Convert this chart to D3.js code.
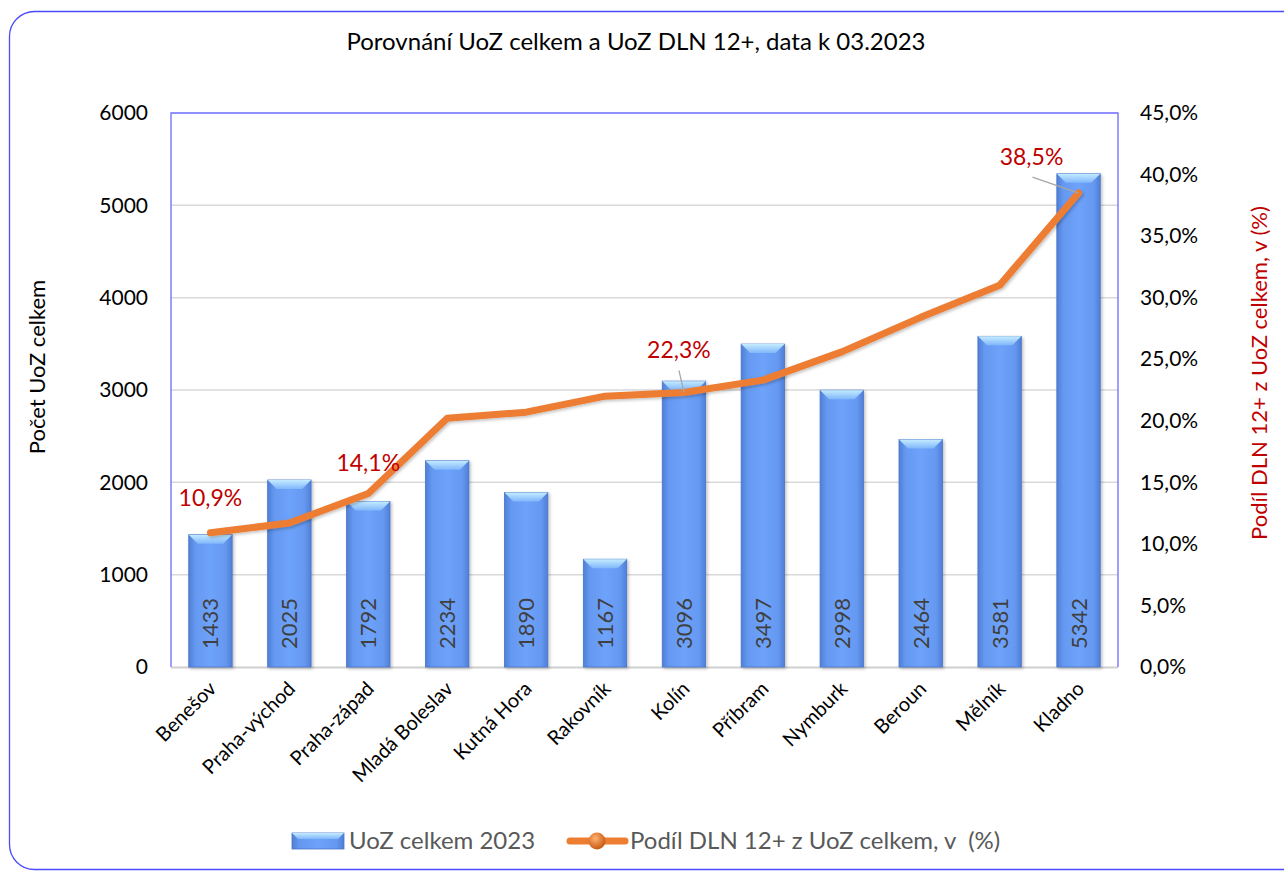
<!DOCTYPE html>
<html>
<head>
<meta charset="utf-8">
<script src="https://cdn.jsdelivr.net/npm/d3@7"></script>
<style>
  body { margin: 0; background: #fff; }
  text { font-family: Lato, "Open Sans", sans-serif; }
</style>
</head>
<body>
<div id="chart-container"></div>
<script>
// data
const districts = ["Benešov", "Praha-východ", "Praha-západ", "Mladá Boleslav", "Kutná Hora",
  "Rakovník", "Kolín", "Příbram", "Nymburk", "Beroun", "Mělník", "Kladno"];
const uozTotal = [1433, 2025, 1792, 2234, 1890, 1167, 3096, 3497, 2998, 2464, 3581, 5342];
const dlnShare = [10.9, 11.7, 14.1, 20.2, 20.7, 22.0, 22.3, 23.3, 25.6, 28.4, 31.0, 38.5];
const leftTicks = [0, 1000, 2000, 3000, 4000, 5000, 6000];
const rightTicks = [0, 5, 10, 15, 20, 25, 30, 35, 40, 45];
const labelled = [0, 2, 6, 11];

const w = 1284;
const h = 871;
const plot = { left: 171, right: 1118, top: 113, bottom: 667 };
const pct = (v) => d3.format(".1f")(v).replace(".", ",") + "%";

const svg = d3.select("#chart-container").append("svg")
  .attr("width", w).attr("height", h);

const defs = svg.append("defs");

const barGrad = defs.append("linearGradient").attr("id", "barGrad")
  .attr("x1", 0).attr("x2", 1).attr("y1", 0).attr("y2", 0);
barGrad.append("stop").attr("offset", "0%").attr("stop-color", "#4f7fd6");
barGrad.append("stop").attr("offset", "15%").attr("stop-color", "#6598f0");
barGrad.append("stop").attr("offset", "50%").attr("stop-color", "#6ea3fb");
barGrad.append("stop").attr("offset", "85%").attr("stop-color", "#6598f0");
barGrad.append("stop").attr("offset", "100%").attr("stop-color", "#4f7fd6");

const capGrad = defs.append("linearGradient").attr("id", "capGrad")
  .attr("x1", 0).attr("x2", 0).attr("y1", 0).attr("y2", 1);
capGrad.append("stop").attr("offset", "0%").attr("stop-color", "#c4ecff");
capGrad.append("stop").attr("offset", "100%").attr("stop-color", "#80b6fb");

const ballGrad = defs.append("radialGradient").attr("id", "ballGrad")
  .attr("cx", "40%").attr("cy", "35%").attr("r", "65%");
ballGrad.append("stop").attr("offset", "0%").attr("stop-color", "#ffb070");
ballGrad.append("stop").attr("offset", "100%").attr("stop-color", "#c85a10");

const shadow = defs.append("filter").attr("id", "shadow")
  .attr("x", "-20%").attr("y", "-20%").attr("width", "140%").attr("height", "140%");
shadow.append("feDropShadow").attr("dx", 1.5).attr("dy", 1.5).attr("stdDeviation", 1.5)
  .attr("flood-color", "#000").attr("flood-opacity", 0.25);

// outer frame
svg.append("rect")
  .attr("x", 9.5).attr("y", 11.5).attr("width", 1320).attr("height", 858)
  .attr("rx", 25).attr("fill", "none").attr("stroke", "#4a4aff").attr("stroke-width", 1.3);

// scales
const xScale = d3.scaleBand().domain(districts).range([plot.left, plot.right]).paddingInner(0.45).paddingOuter(0.225);
const yScale = d3.scaleLinear().domain([0, 6000]).range([plot.bottom, plot.top]);
const y2Scale = d3.scaleLinear().domain([0, 45]).range([plot.bottom, plot.top]);
const center = (d) => xScale(d) + xScale.bandwidth() / 2;

// gridlines
svg.append("g").selectAll("line").data(leftTicks.slice(1, -1)).join("line")
  .attr("x1", plot.left).attr("x2", plot.right)
  .attr("y1", (d) => yScale(d)).attr("y2", (d) => yScale(d))
  .attr("stroke", "#d9d9d9").attr("stroke-width", 1.5);

// bottom axis line
svg.append("line")
  .attr("x1", plot.left).attr("x2", plot.right)
  .attr("y1", plot.bottom + 0.5).attr("y2", plot.bottom + 0.5)
  .attr("stroke", "#d0d0d0").attr("stroke-width", 2);

// plot border (left, top, right)
svg.append("path")
  .attr("d", `M${plot.left},${plot.bottom}V${plot.top}H${plot.right}V${plot.bottom}`)
  .attr("fill", "none").attr("stroke", "#6b6bff").attr("stroke-width", 1.3);

// left axis
const yAxis = d3.axisLeft(yScale).tickValues(leftTicks).tickSize(0).tickPadding(0)
  .tickFormat(d3.format("d"));
svg.append("g").attr("transform", `translate(148,0)`).call(yAxis)
  .call((g) => g.select(".domain").remove())
  .selectAll("text").attr("font-size", 21).attr("fill", "#000").attr("font-family", "Lato");

// right axis
const y2Axis = d3.axisRight(y2Scale).tickValues(rightTicks).tickSize(0).tickPadding(0)
  .tickFormat(pct);
svg.append("g").attr("transform", `translate(1140,0)`).call(y2Axis)
  .call((g) => g.select(".domain").remove())
  .selectAll("text").attr("font-size", 21).attr("fill", "#000").attr("font-family", "Lato");

// bars
const bars = svg.append("g").selectAll("g").data(districts).join("g")
  .attr("filter", "url(#shadow)");
bars.append("rect")
  .attr("x", (d) => xScale(d))
  .attr("y", (d, i) => yScale(uozTotal[i]))
  .attr("width", xScale.bandwidth())
  .attr("height", (d, i) => plot.bottom - yScale(uozTotal[i]))
  .attr("fill", "url(#barGrad)")
  .attr("stroke", "#4a73c8").attr("stroke-width", 0.8);
bars.append("path")
  .attr("d", (d, i) => {
    const x0 = xScale(d), x1 = x0 + xScale.bandwidth(), y0 = yScale(uozTotal[i]);
    return `M${x0},${y0}H${x1}L${x1 - 9},${y0 + 9}H${x0 + 9}Z`;
  })
  .attr("fill", "url(#capGrad)");

// bar value labels
svg.append("g").selectAll("text").data(districts).join("text")
  .attr("transform", (d) => `translate(${center(d) + 8},649) rotate(-90)`)
  .attr("font-size", 22).attr("fill", "#404040")
  .text((d, i) => uozTotal[i]);

// share line
const line = d3.line()
  .x((d, i) => center(districts[i]))
  .y((d) => y2Scale(d));
svg.append("path").datum(dlnShare)
  .attr("d", line)
  .attr("fill", "none").attr("stroke", "#ed7d31").attr("stroke-width", 7)
  .attr("stroke-linejoin", "round").attr("stroke-linecap", "round")
  .attr("filter", "url(#shadow)");

// point labels, two of them with leader lines
const labelOffset = { 0: [0, -27], 2: [0, -22], 6: [-5, -34], 11: [-47, -28] };
const leader = { 6: [-5, -22], 11: [-46, -16] };
labelled.forEach((i) => {
  const px = center(districts[i]);
  const py = y2Scale(dlnShare[i]);
  const [dx, dy] = labelOffset[i];
  if (leader[i]) {
    svg.append("line")
      .attr("x1", px + leader[i][0]).attr("y1", py + leader[i][1])
      .attr("x2", px).attr("y2", py)
      .attr("stroke", "#a6a6a6").attr("stroke-width", 1.3);
  }
  svg.append("text")
    .attr("x", px + dx).attr("y", py + dy)
    .attr("text-anchor", "middle")
    .attr("font-size", 23).attr("fill", "#c00000")
    .text(pct(dlnShare[i]));
});

// x labels
svg.append("g").selectAll("text").data(districts).join("text")
  .attr("transform", (d) => `translate(${center(d) + 7},690) rotate(-45)`)
  .attr("text-anchor", "end")
  .attr("font-size", 20).attr("fill", "#000")
  .text((d) => d);

// title
svg.append("text").attr("x", 636).attr("y", 50).attr("text-anchor", "middle")
  .attr("font-size", 24).attr("fill", "#000")
  .text("Porovnání UoZ celkem a UoZ DLN 12+, data k 03.2023");

// axis titles
svg.append("text").attr("transform", "translate(45,367) rotate(-90)")
  .attr("text-anchor", "middle").attr("font-size", 22).attr("fill", "#000")
  .text("Počet UoZ celkem");
svg.append("text").attr("transform", "translate(1267,373) rotate(-90)")
  .attr("text-anchor", "middle").attr("font-size", 22).attr("fill", "#c00000")
  .text("Podíl DLN 12+ z UoZ celkem, v (%)");

// legend
const legend = svg.append("g");
legend.append("rect").attr("x", 292).attr("y", 833).attr("width", 52).attr("height", 16)
  .attr("fill", "url(#barGrad)").attr("stroke", "#4a73c8").attr("stroke-width", 0.8);
legend.append("path").attr("d", "M292,833H344L338,839H298Z").attr("fill", "url(#capGrad)");
legend.append("text").attr("x", 349).attr("y", 849).attr("font-size", 24).attr("fill", "#595959")
  .text("UoZ celkem 2023");
legend.append("line").attr("x1", 570).attr("x2", 625).attr("y1", 841).attr("y2", 841)
  .attr("stroke", "#ed7d31").attr("stroke-width", 7).attr("stroke-linecap", "round");
legend.append("circle").attr("cx", 597).attr("cy", 841).attr("r", 8.5).attr("fill", "url(#ballGrad)");
legend.append("text").attr("x", 630).attr("y", 849).attr("font-size", 24).attr("fill", "#595959")
  .style("white-space", "pre")
  .text("Podíl DLN 12+ z UoZ celkem, v  (%)");
</script>
</body>
</html>
